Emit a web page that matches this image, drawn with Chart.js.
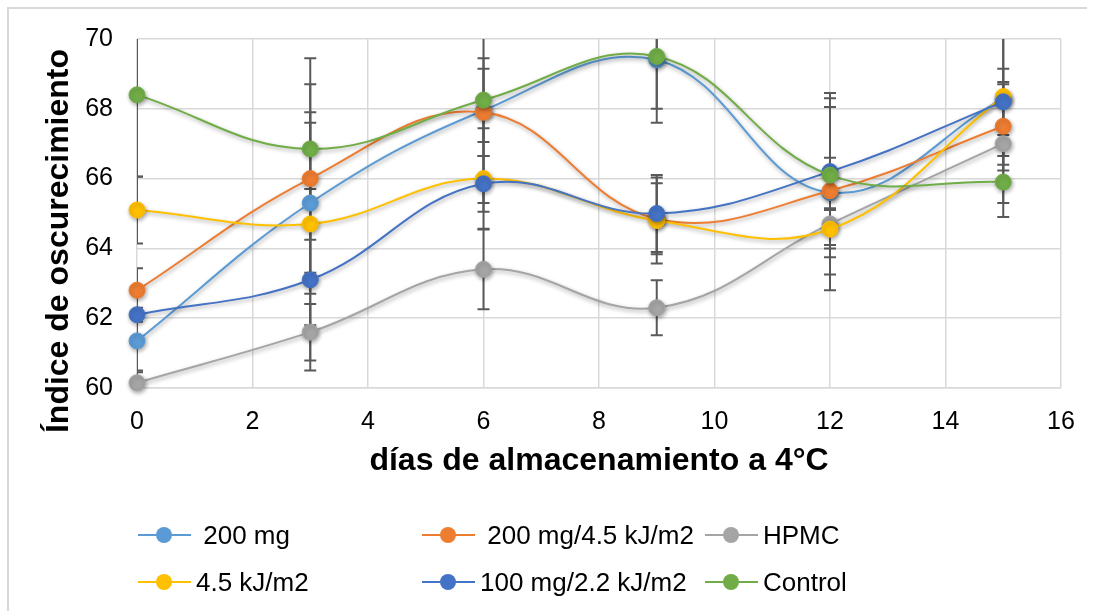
<!DOCTYPE html>
<html>
<head>
<meta charset="utf-8">
<script src="https://cdn.jsdelivr.net/npm/chart.js@4.4.1/dist/chart.umd.min.js"></script>
<style>
  body { margin: 0; background: #fff; }
  #wrap { position: relative; width: 1094px; height: 611px; overflow: hidden; }
  #frame { position: absolute; left: 7px; top: 7px; width: 1078px; height: 640px;
           border-left: 2px solid #d9d9d9; border-top: 2px solid #d9d9d9; }
  canvas { position: absolute; left: 0; top: 0; }
  .item { position: absolute; display: flex; align-items: center; height: 30px;
          font: 26px "Liberation Sans", Arial, sans-serif; color: #000; white-space: pre; }
  .mark { position: relative; width: 53px; height: 30px; flex: none; }
  .mark .ln { position: absolute; left: 0; right: 0; top: 14px; height: 2px; }
  .mark .dot { position: absolute; left: 18px; top: 7px; width: 16px; height: 16px; border-radius: 50%; }
  .item span.txt { margin-left: 5px; }
</style>
</head>
<body>
<div id="wrap">
  <div id="frame"></div>
  <canvas id="chart" width="1094" height="611"></canvas>
  <div id="legend"></div>
</div>
<script>
// días de almacenamiento
const days = [0, 3, 6, 9, 12, 15];

const labels = [" 200 mg", " 200 mg/4.5 kJ/m2", "HPMC", "4.5 kJ/m2", "100 mg/2.2 kJ/m2", "Control"];
const colors = ["#5b9bd5", "#ed7d31", "#a5a5a5", "#ffc000", "#4472c4", "#70ad47"];

// índice de oscurecimiento por tratamiento
const v200mg = [61.35, 65.3, 67.95, 69.4, 65.6, 68.3];
const v200mg45 = [62.8, 66.0, 67.9, 64.85, 65.65, 67.5];
const vHpmc = [60.15, 61.6, 63.4, 62.3, 64.7, 67.0];
const v45 = [65.1, 64.7, 66.0, 64.8, 64.55, 68.35];
const v100mg22 = [62.1, 63.1, 65.85, 65.0, 66.2, 68.2];
const vControl = [68.4, 66.85, 68.25, 69.5, 66.1, 65.9];

// desviación estándar
const e200mg = [0.85, 2.6, 2.65, 1.8, 0.45, 1.9];
const e200mg45 = [0.63, 2.7, 1.25, 1.02, 2.4, 1.27];
const eHpmc = [0.3, 0.81, 1.14, 0.79, 1.9, 1.7];
const e45 = [0.96, 2.9, 1.44, 1.23, 0.55, 1.7];
const e100mg22 = [0.2, 2.6, 0.8, 1.1, 2.1, 0.95];
const eControl = [2.35, 2.6, 1.2, 1.5, 2.35, 1.0];

const xTicks = [0, 2, 4, 6, 8, 10, 12, 14, 16];
const yTicks = [60, 62, 64, 66, 68, 70];

const xTitle = "días de almacenamiento a 4°C";
const yTitle = "Índice de oscurecimiento";

const series = [v200mg, v200mg45, vHpmc, v45, v100mg22, vControl];
const errors = [e200mg, e200mg45, eHpmc, e45, e100mg22, eControl];

const FONT = '"Liberation Sans", Arial, sans-serif';

// barras de error, debajo de las líneas
const errorBars = {
  id: "errorBars",
  beforeDatasetsDraw(chart) {
    const { ctx, chartArea, scales } = chart;
    ctx.save();
    ctx.beginPath();
    ctx.rect(chartArea.left, chartArea.top, chartArea.right - chartArea.left, chartArea.bottom - chartArea.top);
    ctx.clip();
    ctx.strokeStyle = "#595959";
    ctx.lineWidth = 2;
    series.forEach((vals, s) => {
      vals.forEach((v, i) => {
        const e = errors[s][i];
        const px = scales.x.getPixelForValue(days[i]);
        const top = scales.y.getPixelForValue(v + e);
        const bot = scales.y.getPixelForValue(v - e);
        ctx.beginPath();
        ctx.moveTo(px, top); ctx.lineTo(px, bot);
        ctx.moveTo(px - 6, top); ctx.lineTo(px + 6, top);
        ctx.moveTo(px - 6, bot); ctx.lineTo(px + 6, bot);
        ctx.stroke();
      });
    });
    ctx.restore();
  }
};

// sombra suave en líneas y marcadores
const shadow = {
  id: "shadow",
  beforeDatasetDraw(chart) {
    const c = chart.ctx;
    c.save();
    c.shadowColor = "rgba(0,0,0,0.35)";
    c.shadowBlur = 4;
    c.shadowOffsetX = 1;
    c.shadowOffsetY = 2;
  },
  afterDatasetDraw(chart) {
    chart.ctx.restore();
  }
};

// título del eje vertical
const yAxisTitle = {
  id: "yAxisTitle",
  afterDraw(chart) {
    const c = chart.ctx;
    c.save();
    c.translate(59, 241);
    c.rotate(-Math.PI / 2);
    c.font = "bold 32px " + FONT;
    c.fillStyle = "#000";
    c.textAlign = "center";
    c.textBaseline = "middle";
    c.fillText(yTitle, 0, 0);
    c.restore();
  }
};

const datasets = series.map((vals, s) => ({
  label: labels[s],
  data: vals.map((v, i) => ({ x: days[i], y: v })),
  borderColor: colors[s],
  backgroundColor: colors[s],
  pointBackgroundColor: colors[s],
  pointBorderColor: colors[s],
  borderWidth: 2,
  pointRadius: 8,
  pointBorderWidth: 1,
  tension: 0.4,
  clip: false,
  order: series.length - s
}));

const chart = new Chart(document.getElementById("chart"), {
  type: "line",
  data: { datasets: datasets },
  options: {
    responsive: false,
    animation: false,
    layout: { padding: { left: 35, top: 37, right: 33, bottom: 127 } },
    plugins: { legend: { display: false }, tooltip: { enabled: false } },
    scales: {
      x: {
        type: "linear",
        min: 0,
        max: 16,
        afterBuildTicks: (scale) => { scale.ticks = xTicks.map((v) => ({ value: v })); },
        afterFit: (scale) => { scale.height = 96; },
        grid: { color: "#d9d9d9", lineWidth: 1.5, drawTicks: false },
        border: { color: "#d9d9d9", width: 1.5 },
        ticks: { color: "#000", padding: 19, maxRotation: 0, font: { family: FONT, size: 25 } },
        title: { display: true, text: xTitle, color: "#000", padding: { top: 4, bottom: 4 },
                 font: { family: FONT, size: 32, weight: "bold" } }
      },
      y: {
        min: 60,
        max: 70,
        afterBuildTicks: (scale) => { scale.ticks = yTicks.map((v) => ({ value: v })); },
        afterFit: (scale) => { scale.width = 102; },
        grid: { color: "#d9d9d9", lineWidth: 1.5, drawTicks: false },
        border: { display: false },
        ticks: { color: "#000", padding: 24, font: { family: FONT, size: 25 } }
      }
    }
  },
  plugins: [errorBars, shadow, yAxisTitle]
});

// leyenda en tres columnas
const legendCols = [138, 422, 705];
const legendRows = [535, 582];
const legend = document.getElementById("legend");
labels.forEach((lab, s) => {
  const item = document.createElement("div");
  item.className = "item";
  item.style.left = legendCols[s % 3] + "px";
  item.style.top = (legendRows[Math.floor(s / 3)] - 15) + "px";
  item.innerHTML = '<span class="mark"><span class="ln" style="background:' + colors[s] +
    '"></span><span class="dot" style="background:' + colors[s] + '"></span></span>';
  const txt = document.createElement("span");
  txt.className = "txt";
  txt.textContent = lab;
  item.appendChild(txt);
  legend.appendChild(item);
});
</script>
</body>
</html>
